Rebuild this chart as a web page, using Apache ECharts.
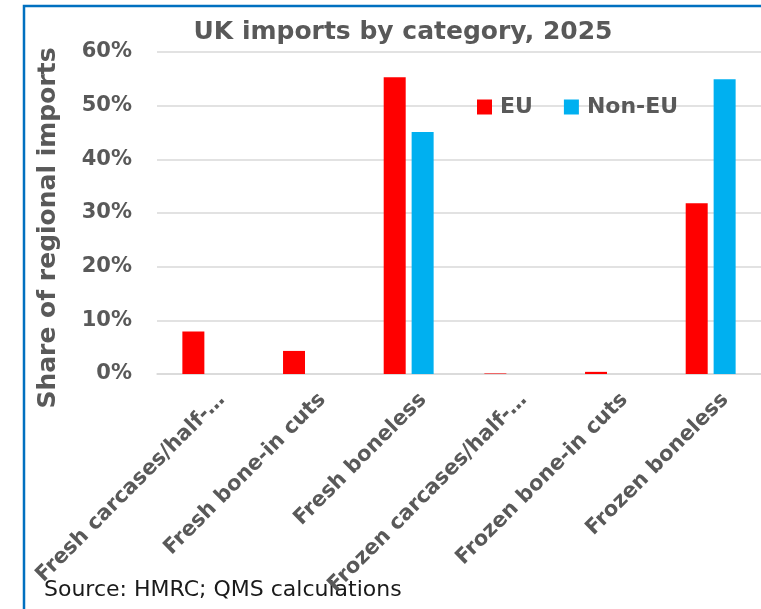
<!DOCTYPE html>
<html>
<head>
<meta charset="utf-8">
<script src="https://cdn.jsdelivr.net/npm/echarts@6/dist/echarts.min.js"></script>
<style>
html,body{margin:0;padding:0;background:#fff;}
#chart{width:761px;height:609px;}
</style>
</head>
<body>
<div id="chart"></div>
<script>
const categories = ["Fresh carcases/half-…", "Fresh bone-in cuts", "Fresh boneless", "Frozen carcases/half-…", "Frozen bone-in cuts", "Frozen boneless"];
const euValues = [7.9, 4.3, 55.3, 0.1, 0.4, 31.8];
const nonEuValues = [0, 0, 45.1, 0, 0, 54.9];
const yTicks = { min: 0, max: 60, interval: 10 };
const seriesNames = ["EU", "Non-EU"];

const FONT = "'DejaVu Sans', sans-serif";
const GRAY = "#595959";

const chart = echarts.init(document.getElementById('chart'), null, { renderer: 'canvas' });
chart.setOption({
  animation: false,
  backgroundColor: '#fff',
  textStyle: { fontFamily: FONT },
  title: {
    text: 'UK imports by category, 2025',
    left: 398, textAlign: 'center', top: 15,
    textStyle: { fontFamily: FONT, fontSize: 25, fontWeight: 'bold', color: GRAY }
  },
  legend: {
    data: seriesNames,
    left: 472, top: 91,
    icon: 'rect', itemWidth: 15, itemHeight: 15, itemGap: 31,
    textStyle: { fontFamily: FONT, fontSize: 22, fontWeight: 'bold', color: GRAY, padding: [0, 0, 0, 3] }
  },
  grid: { left: 157, right: 0, top: 52, height: 322, containLabel: false },
  xAxis: {
    type: 'category',
    data: categories,
    axisLine: { show: true, lineStyle: { color: '#D9D9D9', width: 1.5 } },
    axisTick: { show: false },
    axisLabel: {
      interval: 0, rotate: 45, margin: 8, verticalAlign: 'top', padding: [10, 0, 0, 0],
      fontFamily: FONT, fontSize: 21, fontWeight: 'bold', color: GRAY
    }
  },
  yAxis: {
    type: 'value',
    min: yTicks.min, max: yTicks.max, interval: yTicks.interval,
    axisLine: { show: false },
    axisTick: { show: false },
    splitLine: { lineStyle: { color: '#D9D9D9', width: 1.5 } },
    axisLabel: {
      formatter: '{value}%', margin: 25,
      fontFamily: FONT, fontSize: 21, fontWeight: 'bold', color: GRAY
    }
  },
  series: [
    { name: seriesNames[0], type: 'bar', data: euValues, barWidth: 22, barGap: '27%', itemStyle: { color: '#FF0000' } },
    { name: seriesNames[1], type: 'bar', data: nonEuValues, barWidth: 22, itemStyle: { color: '#00B0F0' } }
  ],
  graphic: [
    { type: 'rect', shape: { x: 24, y: 6, width: 900, height: 800 }, style: { fill: 'none', stroke: '#0070C0', lineWidth: 2.5 }, silent: true },
    { type: 'text', x: 48, y: 228, rotation: Math.PI / 2,
      style: { text: 'Share of regional imports', font: "bold 25px " + FONT, fill: GRAY, align: 'center', verticalAlign: 'middle' } },
    { type: 'text', x: 44, y: 590,
      style: { text: 'Source: HMRC; QMS calculations', font: "22px " + FONT, fill: '#1a1a1a', align: 'left', verticalAlign: 'middle' } }
  ]
});
</script>
</body>
</html>
